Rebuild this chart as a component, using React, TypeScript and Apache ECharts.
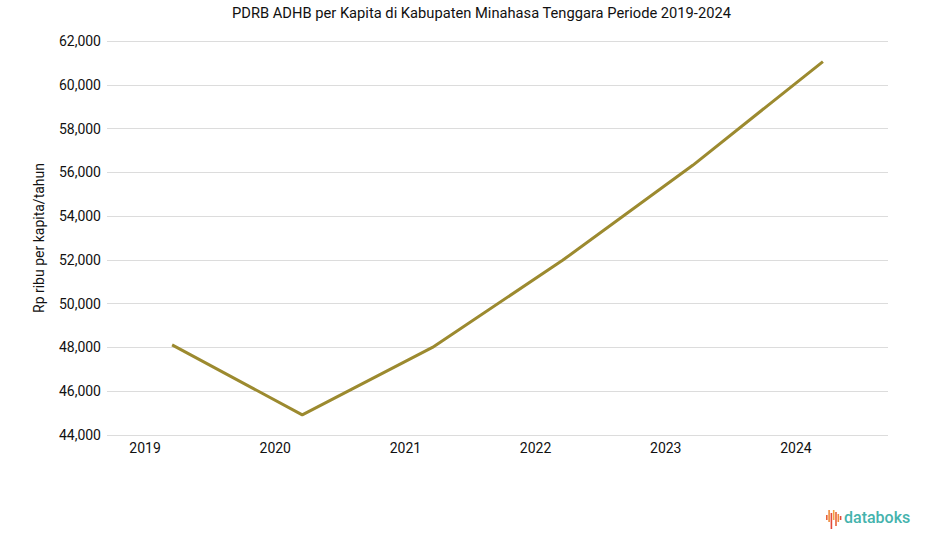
import React, { useEffect, useRef } from "react";
import * as echarts from "echarts";

const title = "PDRB ADHB per Kapita di Kabupaten Minahasa Tenggara Periode 2019-2024";
const yAxisName = "Rp ribu per kapita/tahun";
const years = ["2019", "2020", "2021", "2022", "2023", "2024"];
const values = [48120, 44920, 48000, 51980, 56320, 61060];
const yMin = 44000;
const yMax = 62000;
const yStep = 2000;

export default function App() {
  const ref = useRef<HTMLDivElement>(null);
  useEffect(() => {
    document.body.style.margin = "0";
    if (!ref.current) return;
    const chart = echarts.init(ref.current, null, { renderer: "svg" });
    const font = "Roboto, 'Noto Sans', sans-serif";
    const barColors = ["#e8623a", "#f08a3c", "#e24a3b", "#f4a340", "#e8623a", "#f08a3c", "#e24a3b"];
    const barHeights = [5, 12, 16, 10, 14, 8, 4];
    const barOffsets = [5, 0, 3, 0, 2, 4, 6];
    const icon = barHeights.map((h, i) => ({
      type: "rect",
      shape: { x: 826 + i * 2.3, y: 510 + barOffsets[i], width: 1.6, height: h },
      style: { fill: barColors[i] },
    }));
    chart.setOption({
      animation: false,
      backgroundColor: "#ffffff",
      title: {
        text: title,
        left: 227,
        top: 0,
        textStyle: { fontFamily: font, fontSize: 14.7, fontWeight: "normal", color: "#111" },
      },
      grid: { left: 107, right: 37, top: 41, bottom: 112, containLabel: false },
      xAxis: {
        type: "category",
        data: years,
        boundaryGap: true,
        axisLine: { show: false },
        axisTick: { show: false },
        axisLabel: {
          fontFamily: font,
          fontSize: 14,
          color: "#111",
          margin: 6,
          padding: [0, 54, 0, 0],
        },
      },
      yAxis: {
        type: "value",
        min: yMin,
        max: yMax,
        interval: yStep,
        name: yAxisName,
        nameLocation: "middle",
        nameGap: 61,
        nameTextStyle: { fontFamily: font, fontSize: 14, color: "#111" },
        axisLine: { show: false },
        axisTick: { show: false },
        splitLine: { lineStyle: { color: "#dcdcdc", width: 1 } },
        axisLabel: {
          fontFamily: font,
          fontSize: 14,
          color: "#111",
          margin: 6,
          formatter: (v: number) => v.toLocaleString("en-US"),
        },
      },
      series: [
        {
          type: "line",
          data: values,
          symbol: "none",
          lineStyle: { color: "#9c8a2f", width: 3 },
          itemStyle: { color: "#9c8a2f" },
        },
      ],
      graphic: [
        ...icon,
        {
          type: "text",
          x: 844,
          y: 509,
          style: {
            text: "databoks",
            fontFamily: font,
            fontSize: 16,
            fontWeight: 500,
            fill: "#45b3ad",
          },
        },
      ],
    });
    return () => chart.dispose();
  }, []);
  return <div ref={ref} style={{ width: 925, height: 547 }} />;
}
